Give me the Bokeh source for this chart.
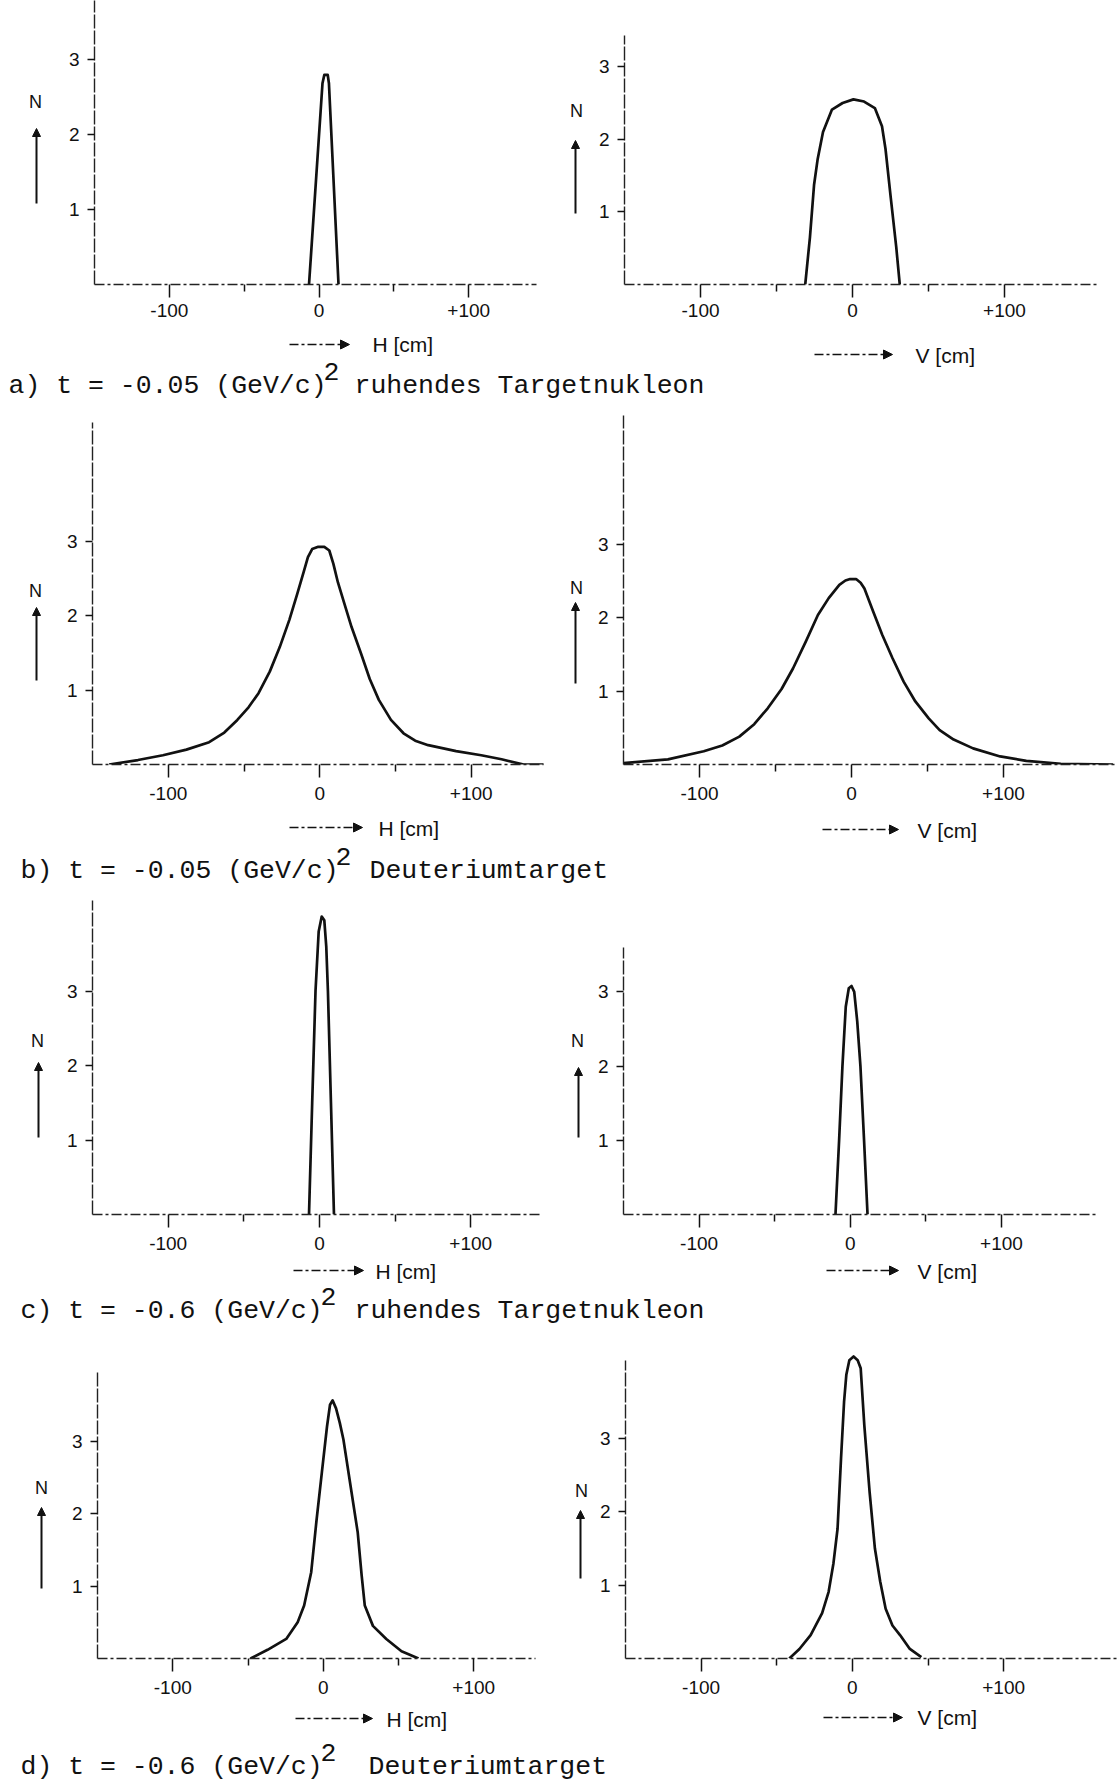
from bokeh.plotting import figure
from bokeh.models import (Range1d, FixedTicker, CustomJSTickFormatter, Label,
                          Arrow, NormalHead)
from bokeh.layouts import column, row
from bokeh.embed import file_html
from bokeh.resources import INLINE

# ---------------- data (N versus position in cm) ----------------
# a) t = -0.05 (GeV/c)^2, target nucleon at rest
a_H_cm = [-6.7, 2.3, 3.5, 5.8, 6.6, 13.0]
a_H_N = [0.0, 2.68, 2.79, 2.79, 2.68, 0.0]
a_V_cm = [-31.1, -28.0, -25.3, -22.9, -19.4, -13.5, -6.5, 0.6, 7.6, 14.7, 19.4, 21.7, 25.2, 28.8, 31.1]
a_V_N = [0.0, 0.65, 1.37, 1.73, 2.10, 2.41, 2.50, 2.55, 2.52, 2.43, 2.18, 1.87, 1.19, 0.51, 0.0]

# b) t = -0.05 (GeV/c)^2, deuterium target
b_H_cm = [-139, -120, -103.5, -88, -73, -63, -54.4, -47, -40.4, -33, -26.4, -20, -14.8, -10.5, -7.8,
          -5, -1, 3, 6.3, 9, 12, 15.6, 21, 27.3, 33, 39, 47, 55.3, 63, 71.6, 90, 106.6, 120, 134.6, 148]
b_H_N = [0.0, 0.06, 0.125, 0.2, 0.30, 0.43, 0.60, 0.77, 0.96, 1.25, 1.58, 1.95, 2.30, 2.60, 2.79,
         2.90, 2.93, 2.93, 2.88, 2.70, 2.45, 2.21, 1.85, 1.49, 1.15, 0.87, 0.60, 0.42, 0.32, 0.26,
         0.18, 0.125, 0.07, 0.0, 0.0]
b_V_cm = [-150, -120.8, -97.2, -85, -73.8, -64, -55, -46, -38.5, -30, -22.1, -15, -8, -4, -0.9,
          3, 6, 8.5, 14, 20.2, 27, 34.3, 42, 50.8, 58, 67.2, 80, 97.8, 115, 137.7, 172]
b_V_N = [0.02, 0.07, 0.18, 0.26, 0.38, 0.55, 0.77, 1.03, 1.31, 1.68, 2.04, 2.27, 2.45, 2.51, 2.53,
         2.53, 2.48, 2.40, 2.10, 1.77, 1.45, 1.13, 0.86, 0.63, 0.47, 0.34, 0.22, 0.11, 0.05, 0.01, 0.0]

# c) t = -0.6 (GeV/c)^2, target nucleon at rest
c_H_cm = [-6.9, -4.8, -2.6, -0.5, 1.5, 3.2, 4.5, 5.6, 7.6, 9.6]
c_H_N = [0.0, 1.5, 3.0, 3.8, 4.0, 3.95, 3.6, 3.0, 1.5, 0.0]
c_V_cm = [-9.8, -7.4, -5.2, -3.0, -1.0, 0.8, 2.6, 4.6, 6.7, 9.1, 11.4]
c_V_N = [0.0, 1.0, 2.0, 2.8, 3.05, 3.08, 3.0, 2.6, 2.0, 1.0, 0.0]

# d) t = -0.6 (GeV/c)^2, deuterium target
d_H_cm = [-48.3, -37, -24.6, -17, -12.7, -8, -4.5, -0.9, 2.5, 4.5, 6.2, 8.5, 11, 13.4, 18, 22.9,
          25.5, 27.6, 33, 41.9, 52, 63.3]
d_H_N = [0.0, 0.12, 0.27, 0.5, 0.73, 1.19, 1.9, 2.57, 3.2, 3.5, 3.56, 3.45, 3.25, 3.02, 2.4, 1.74,
         1.15, 0.73, 0.45, 0.27, 0.1, 0.0]
d_V_cm = [-41.7, -35, -27.6, -20, -15.7, -12.5, -9.8, -7.5, -5.5, -4, -2, 0.8, 3.5, 5.5, 7.9, 11.4,
          14.9, 18.4, 22, 26.5, 31.5, 38, 45.6]
d_V_N = [0.0, 0.13, 0.32, 0.62, 0.91, 1.3, 1.77, 2.73, 3.5, 3.87, 4.07, 4.12, 4.07, 3.96, 3.18, 2.27,
         1.5, 1.05, 0.68, 0.45, 0.32, 0.13, 0.02]

y_ticks = [1, 2, 3]
x_major = [-100, 0, 100]
x_minor = [-50, 50]

captions = [
    ("a) t = -0.05 (GeV/c)", "2", "ruhendes Targetnukleon"),
    ("b) t = -0.05 (GeV/c)", "2", "Deuteriumtarget"),
    ("c) t = -0.6 (GeV/c)", "2", "ruhendes Targetnukleon"),
    ("d) t = -0.6 (GeV/c)", "2", "Deuteriumtarget"),
]
H_label = "H [cm]"
V_label = "V [cm]"
N_label = "N"

# ---------------- styling ----------------
SANS = "Liberation Sans"
MONO = "Liberation Mono"
INK = "#111111"
MONO_SIZE = 26.5

W_NL, W_PL, W_NR, W_PR = 60, 492, 40, 528   # widths of the four columns (sum 1120)
X_NL, X_PL, X_NR, X_PR = 0, 60, 552, 592    # their page x positions


def make_panel(xs, ys, fig_x0, fig_y0, fw, fh, frame_top, baseline, standoff,
               zero_x, k, x_end, unit, axis_top_y):
    mb_left = int(round(zero_x - 150 * k - fig_x0))
    frame_w = int(round(k * (x_end + 150)))
    mb_right = fw - mb_left - frame_w
    if mb_right < 0:
        frame_w += mb_right
        mb_right = 0
    x_end = -150 + frame_w / k
    mb_top = int(round(frame_top - fig_y0))
    mb_bottom = int(round(fig_y0 + fh - baseline))
    frame_h = fh - mb_top - mb_bottom
    y_end = frame_h / unit
    axis_top = (baseline - axis_top_y) / unit
    p = figure(width=fw, height=fh, x_range=Range1d(-150, x_end), y_range=Range1d(0, y_end),
               output_backend="svg", toolbar_location=None, title=None,
               min_border_left=mb_left, min_border_right=mb_right,
               min_border_top=mb_top, min_border_bottom=mb_bottom)
    p.outline_line_color = None
    p.grid.visible = False
    p.line(xs, ys, line_width=2.7, line_color=INK, line_join="round")

    xa = p.xaxis[0]
    ya = p.yaxis[0]
    xa.ticker = FixedTicker(ticks=x_major, minor_ticks=x_minor)
    xa.formatter = CustomJSTickFormatter(code="return tick > 0 ? '+' + tick : String(tick);")
    xa.major_tick_out = 13
    xa.major_tick_in = 0
    xa.minor_tick_out = 7
    xa.minor_tick_in = 0
    xa.major_label_standoff = standoff
    xa.axis_line_dash = "10 3 3 3"
    ya.ticker = FixedTicker(ticks=y_ticks, minor_ticks=[])
    ya.major_tick_out = 7
    ya.major_tick_in = 0
    ya.major_label_standoff = 8
    ya.axis_line_dash = "14 2"
    ya.bounds = (0, min(axis_top, y_end))
    for ax in (xa, ya):
        ax.axis_line_color = "#222222"
        ax.axis_line_width = 1.4
        ax.major_tick_line_color = INK
        ax.major_tick_line_width = 1.5
        ax.minor_tick_line_color = INK
        ax.minor_tick_line_width = 1.5
        ax.major_label_text_font = SANS
        ax.major_label_text_font_size = "19px"
        ax.major_label_text_color = INK
    return p


def make_nfig(fig_x0, fig_y0, w, h, frame_top, baseline, n_xy, arrow_x, arrow_y0, arrow_y1):
    # frame spans the same rows as the neighbouring panel; data y = page y
    mb_top = int(round(frame_top - fig_y0))
    mb_bottom = int(round(fig_y0 + h - baseline))
    f = figure(width=w, height=h, x_range=Range1d(fig_x0, fig_x0 + w),
               y_range=Range1d(fig_y0 + h - mb_bottom, fig_y0 + mb_top),
               x_axis_type=None, y_axis_type=None, output_backend="svg",
               toolbar_location=None, title=None, min_border_left=0, min_border_right=0,
               min_border_top=mb_top, min_border_bottom=mb_bottom)
    f.outline_line_color = None
    f.add_layout(Label(x=n_xy[0], y=n_xy[1], text=N_label,
                       text_align="center", text_baseline="middle", text_font=SANS,
                       text_font_size="18px", text_color=INK))
    f.add_layout(Arrow(end=NormalHead(size=8, fill_color=INK, line_color=INK),
                       x_start=arrow_x, y_start=arrow_y0, x_end=arrow_x, y_end=arrow_y1,
                       line_width=2, line_color=INK))
    return f


def make_caption(fig_y0, h, cap, x_main, x_sup, x_rest, baseline, xlabels):
    c = figure(width=1120, height=h, x_range=Range1d(0, 1120),
               y_range=Range1d(fig_y0 + h, fig_y0),
               x_axis_type=None, y_axis_type=None, output_backend="svg",
               toolbar_location=None, min_border=0, title=None)
    c.outline_line_color = None
    for (ax0, ax1, ay, lx, ly, txt) in xlabels:
        c.add_layout(Arrow(end=NormalHead(size=9, fill_color=INK, line_color=INK),
                           x_start=ax0, y_start=ay, x_end=ax1, y_end=ay,
                           line_width=1.6, line_color=INK, line_dash="9 3 3 3"))
        c.add_layout(Label(x=lx, y=ly, text=txt, text_align="left",
                           text_baseline="middle", text_font=SANS, text_font_size="21px",
                           text_color=INK))
    main, sup, rest = cap
    common = dict(text_font=MONO, text_font_size=f"{MONO_SIZE}px",
                  text_color=INK, text_align="left", text_baseline="alphabetic")
    c.add_layout(Label(x=x_main, y=baseline, text=main, **common))
    c.add_layout(Label(x=x_sup, y=baseline - 14, text=sup, **common))
    c.add_layout(Label(x=x_rest, y=baseline, text=rest, **common))
    return c


def panel_row(y0, h, frame_top, baseline, standoff, left, right, nl, nr):
    pl = make_panel(left[0], left[1], X_PL, y0, W_PL, h, frame_top, baseline, standoff, *left[2:])
    pr = make_panel(right[0], right[1], X_PR, y0, W_PR, h, frame_top, baseline, standoff, *right[2:])
    fl = make_nfig(X_NL, y0, W_NL, h, frame_top, baseline, *nl)
    fr = make_nfig(X_NR, y0, W_NR, h, frame_top, baseline, *nr)
    return row(fl, pl, fr, pr)


# panel args: xs, ys, zero_x, px_per_cm, x_end, px_per_N, axis_top_y
row_a = panel_row(0, 330, 0, 284.5, 6,
                  (a_H_cm, a_H_N, 318.5, 1.497, 145, 75.1, 0),
                  (a_V_cm, a_V_N, 852, 1.52, 161, 72.6, 35),
                  ((35, 101), 36, 203, 128), ((576, 110), 575, 213, 140))
cap_a = make_caption(330, 74, captions[0], 8, 323, 354, 385,
                     [(289, 349, 344, 372, 344, H_label), (814, 892, 354, 915, 355, V_label)])

row_b = panel_row(404, 410, 412, 764, 9,
                  (b_H_cm, b_H_N, 319.5, 1.515, 148, 74.3, 422),
                  (b_V_cm, b_V_N, 851, 1.52, 175, 73.3, 415),
                  ((35, 590), 36, 680, 607), ((576, 587), 575, 683, 602))
cap_b = make_caption(814, 70, captions[1], 20, 335, 369, 870,
                     [(289, 362, 827, 378, 828, H_label), (822, 898, 829, 917, 830, V_label)])

row_c = panel_row(884, 375, 899, 1214, 9,
                  (c_H_cm, c_H_N, 319.3, 1.513, 146, 74.5, 900),
                  (c_V_cm, c_V_N, 849.8, 1.512, 164, 74.2, 947),
                  ((37, 1040), 38, 1137, 1062), ((577, 1040), 578, 1137, 1067))
cap_c = make_caption(1259, 65, captions[2], 20, 320, 354, 1310,
                     [(293, 363, 1270, 375, 1271, H_label), (826, 898, 1270, 917, 1271, V_label)])

row_d = panel_row(1324, 380, 1350, 1658, 9,
                  (d_H_cm, d_H_N, 322.7, 1.505, 141, 72.5, 1370),
                  (d_V_cm, d_V_N, 851.65, 1.5125, 175, 73.3, 1360),
                  ((41, 1487), 41, 1588, 1507), ((581, 1490), 580, 1578, 1510))
cap_d = make_caption(1704, 76, captions[3], 20, 320, 368, 1766,
                     [(295, 372, 1718, 386, 1719, H_label), (823, 902, 1717, 917, 1717, V_label)])

layout = column(row_a, cap_a, row_b, cap_b, row_c, cap_c, row_d, cap_d)

open("out.html", "w").write(file_html(layout, INLINE))
